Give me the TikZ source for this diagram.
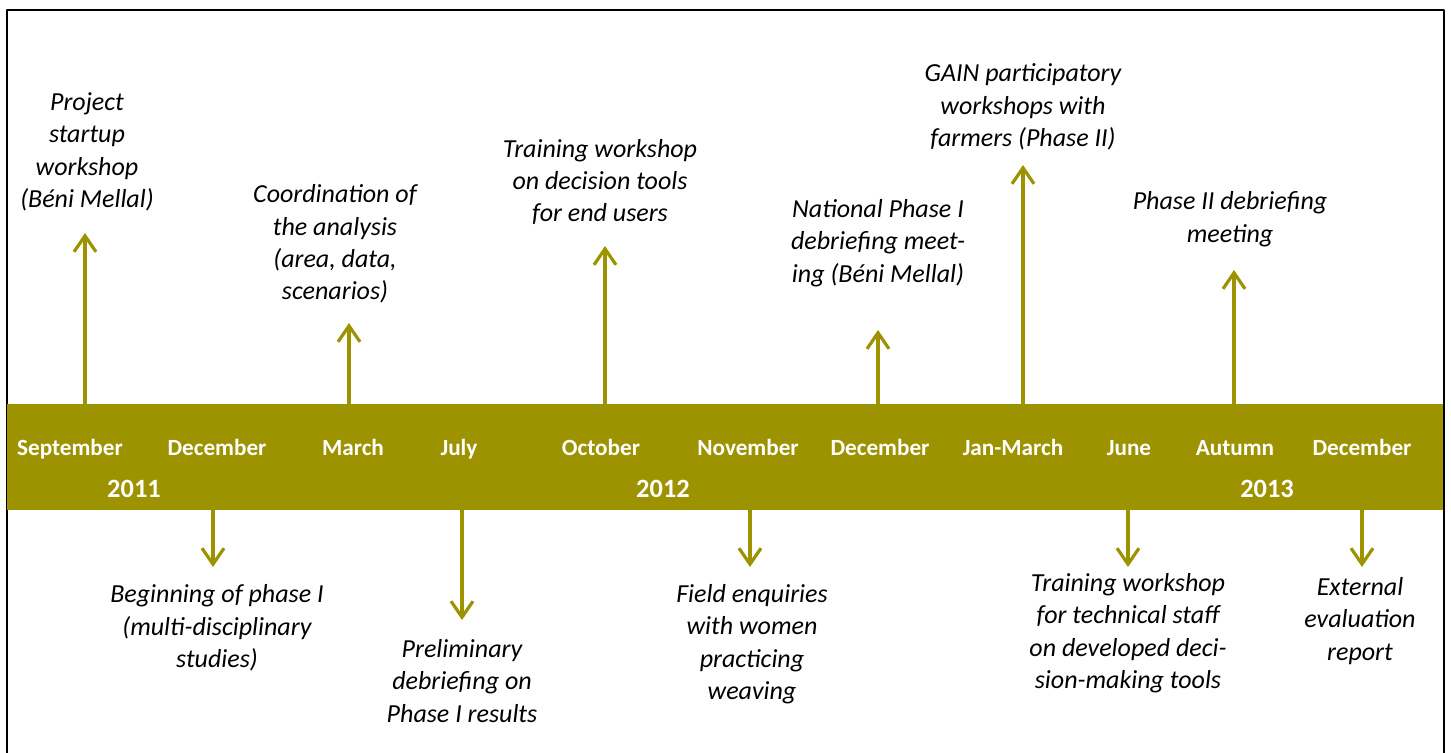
\documentclass[tikz,border=0pt]{standalone}
\usepackage{fontspec}
\setmainfont{Carlito}
\usetikzlibrary{arrows.meta}
\definecolor{olive}{RGB}{157,146,0}
\tikzset{
  event/.style={font=\fontsize{13}{16.2}\selectfont\itshape, align=center, inner sep=0pt},
  month/.style={font=\fontsize{11.6}{14}\selectfont\bfseries, text=white, inner sep=0pt, anchor=base},
  year/.style={month, font=\fontsize{13.2}{16}\selectfont\bfseries},
  evarrow/.style={olive, line width=1.6pt, -{Straight Barb[length=8pt, width=11pt, line width=1.6pt]}}
}
\begin{document}
\begin{tikzpicture}[x=0.5pt, y=-0.5pt, line join=round, line cap=round]
				\useasboundingbox (0,0) rectangle (1451,752);
				\def\top{404}
				\def\bot{510}
				% frame and band
				\draw[line width=1pt] (7,760) -- (7,10) -- (1444,10) -- (1444,760);
				\fill[olive] (7,\top) rectangle (1443,\bot);
				% months and years (on common baselines)
				\node[month] (m1) at (70,455) {September};
				\node[month] (m2) at (217,455) {December};
				\node[month] (m3) at (353,455) {March};
				\node[month] (m4) at (459,455) {July};
				\node[month] (m5) at (601,455) {October};
				\node[month] (m6) at (748,455) {November};
				\node[month] (m7) at (880,455) {December};
				\node[month] (m8) at (1013,455) {Jan-March};
				\node[month] (m9) at (1129,455) {June};
				\node[month] (m10) at (1235,455) {Autumn};
				\node[month] (m11) at (1362,455) {December};
				\node[year] (y1) at (134,497) {2011};
				\node[year] (y2) at (663,497) {2012};
				\node[year] (y3) at (1267,497) {2013};
				% arrows above the band
				\coordinate (a1) at (85,\top);   \coordinate (A1) at (85,233);
				\coordinate (a2) at (349,\top);  \coordinate (A2) at (349,323);
				\coordinate (a3) at (605,\top);  \coordinate (A3) at (605,246);
				\coordinate (a4) at (878,\top);  \coordinate (A4) at (878,330);
				\coordinate (a5) at (1023,\top); \coordinate (A5) at (1023,165);
				\coordinate (a6) at (1234,\top); \coordinate (A6) at (1234,270);
				% arrows below the band
				\coordinate (b1) at (213,\bot);  \coordinate (B1) at (213,567);
				\coordinate (b2) at (462,\bot);  \coordinate (B2) at (462,620);
				\coordinate (b3) at (750,\bot);  \coordinate (B3) at (750,567);
				\coordinate (b4) at (1128,\bot); \coordinate (B4) at (1128,567);
				\coordinate (b5) at (1362,\bot); \coordinate (B5) at (1362,567);
				\foreach \i in {1,...,6}
				\draw[evarrow] (a\i) -- (A\i);
				\foreach \i in {1,...,5}
				\draw[evarrow] (b\i) -- (B\i);
				% events
				\node[event] (e1) at (87,152) {Project\\startup\\workshop\\(Béni Mellal)};
				\node[event] (e2) at (335,244) {Coordination of\\the analysis\\(area, data,\\scenarios)};
				\node[event] (e3) at (600,182) {Training workshop\\on decision tools\\for end users};
				\node[event] (e4) at (878,243) {National Phase I\\debriefing meet-\\ing (Béni Mellal)};
				\node[event] (e5) at (1023,107) {GAIN participatory\\workshops with\\farmers (Phase II)};
				\node[event] (e6) at (1230,219) {Phase II debriefing\\meeting};
				\node[event] (e7) at (217,628) {Beginning of phase I\\(multi-disciplinary\\studies)};
				\node[event] (e8) at (462,681) {Preliminary\\debriefing on\\Phase I results};
				\node[event] (e9) at (752,644) {Field enquiries\\with women\\practicing\\weaving};
				\node[event] (e10) at (1128,633) {Training workshop\\for technical staff\\on developed deci-\\sion-making tools};
				\node[event] (e11) at (1360,621) {External\\evaluation\\report};
\end{tikzpicture}
\end{document}
